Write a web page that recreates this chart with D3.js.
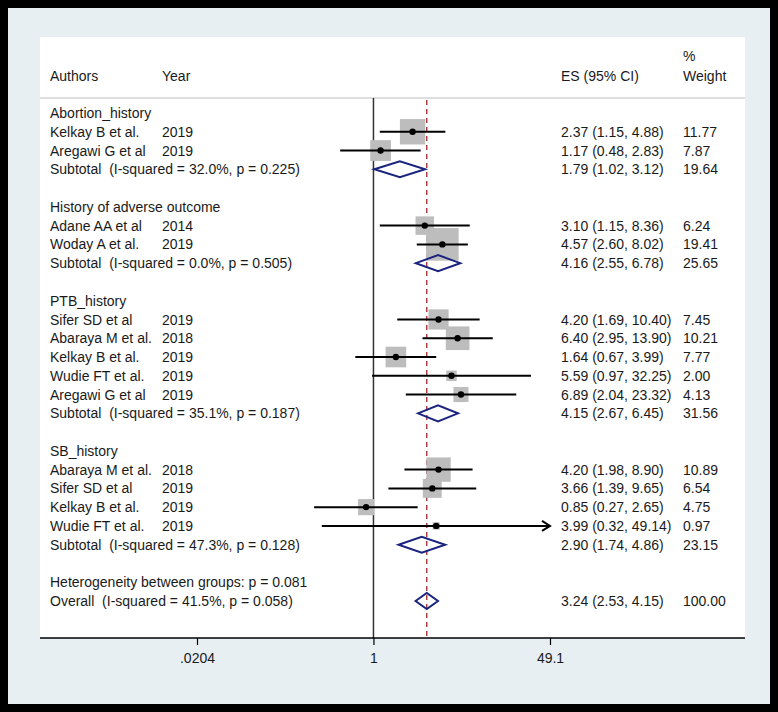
<!DOCTYPE html>
<html><head><meta charset="utf-8">
<script src="https://cdn.jsdelivr.net/npm/d3@7"></script>
<style>
html,body{margin:0;padding:0;background:#fff;}
svg text{font-family:"Liberation Sans",Arial,sans-serif;font-size:14px;fill:#1a1a1a;white-space:pre;}
</style></head>
<body>
<svg id="chart" width="778" height="712"></svg>
<script>
// ---- data ----
const groups = ["Abortion_history", "History of adverse outcome", "PTB_history", "SB_history"];
const studyAuthors = ["Kelkay B et al.", "Aregawi G et al",
  "Adane AA et al", "Woday A et al.",
  "Sifer SD et al", "Abaraya M et al.", "Kelkay B et al.", "Wudie FT et al.", "Aregawi G et al",
  "Abaraya M et al.", "Sifer SD et al", "Kelkay B et al.", "Wudie FT et al."];
const studyYears = ["2019", "2019", "2014", "2019", "2019", "2018", "2019", "2019", "2019", "2018", "2019", "2019", "2019"];
const studyGroup = [0, 0, 1, 1, 2, 2, 2, 2, 2, 3, 3, 3, 3];
const studyES = [2.37, 1.17, 3.10, 4.57, 4.20, 6.40, 1.64, 5.59, 6.89, 4.20, 3.66, 0.85, 3.99];
const studyLo = [1.15, 0.48, 1.15, 2.60, 1.69, 2.95, 0.67, 0.97, 2.04, 1.98, 1.39, 0.27, 0.32];
const studyHi = [4.88, 2.83, 8.36, 8.02, 10.40, 13.90, 3.99, 32.25, 23.32, 8.90, 9.65, 2.65, 49.14];
const studyWeight = ["11.77", "7.87", "6.24", "19.41", "7.45", "10.21", "7.77", "2.00", "4.13", "10.89", "6.54", "4.75", "0.97"];
const subES = [1.79, 4.16, 4.15, 2.90];
const subLo = [1.02, 2.55, 2.67, 1.74];
const subHi = [3.12, 6.78, 6.45, 4.86];
const subWeight = ["19.64", "25.65", "31.56", "23.15"];
const subI2 = ["32.0", "0.0", "35.1", "47.3"];
const subP = ["0.225", "0.505", "0.187", "0.128"];
const heteroP = "0.081";
const overall = {es: 3.24, lo: 2.53, hi: 4.15, weight: "100.00", i2: "41.5", p: "0.058"};
const tickValues = [0.0204, 1, 49.1];
const tickLabels = [".0204", "1", "49.1"];

const fmt = d3.format(".2f");
const esText = (e, l, h) => `${fmt(e)} (${fmt(l)}, ${fmt(h)})`;

// ---- build rows ----
const rows = [];
groups.forEach((g, gi) => {
  rows.push({type: "head", label: g});
  studyGroup.forEach((sg, i) => {
    if (sg === gi) rows.push({type: "study", label: studyAuthors[i], year: studyYears[i],
      es: studyES[i], lo: studyLo[i], hi: studyHi[i], w: studyWeight[i]});
  });
  rows.push({type: "sub", label: `Subtotal  (I-squared = ${subI2[gi]}%, p = ${subP[gi]})`,
    es: subES[gi], lo: subLo[gi], hi: subHi[gi], w: subWeight[gi]});
  rows.push({type: "blank"});
});
rows.push({type: "head", label: `Heterogeneity between groups: p = ${heteroP}`});
rows.push({type: "sub", label: `Overall  (I-squared = ${overall.i2}%, p = ${overall.p})`,
  es: overall.es, lo: overall.lo, hi: overall.hi, w: overall.weight});

// ---- layout ----
const svg = d3.select("#chart");
const W = 778, H = 712;
const plot = {x0: 40, x1: 745, y0: 37, y1: 638};
const headerLineY = 98;

const x = d3.scaleLog().domain([tickValues[0], tickValues[2]]).range([197, 550]);
const y = d3.scaleLinear().domain([0, rows.length - 1]).range([113, 601]);
const boxSide = w => 7.4 * Math.sqrt(+w);

// frame
svg.append("rect").attr("x", 0).attr("y", 0).attr("width", W).attr("height", H).attr("fill", "#000");
svg.append("rect").attr("x", 8).attr("y", 8).attr("width", 762).attr("height", 696).attr("fill", "#e8eff2");
svg.append("rect").attr("x", plot.x0).attr("y", plot.y0).attr("width", plot.x1 - plot.x0)
  .attr("height", plot.y1 - plot.y0).attr("fill", "#fff");

// header
const colAuthor = 50, colYear = 162, colES = 561, colW = 683;
svg.append("text").attr("x", colAuthor).attr("y", 81).text("Authors");
svg.append("text").attr("x", colYear).attr("y", 81).text("Year");
svg.append("text").attr("x", colES).attr("y", 81).text("ES (95% CI)");
svg.append("text").attr("x", colW).attr("y", 81).text("Weight");
svg.append("text").attr("x", colW).attr("y", 61).text("%");
svg.append("line").attr("x1", plot.x0).attr("x2", plot.x1).attr("y1", headerLineY).attr("y2", headerLineY)
  .attr("stroke", "#bdbdbd").attr("stroke-width", 1.2);

// null line & overall line
svg.append("line").attr("x1", x(1)).attr("x2", x(1)).attr("y1", headerLineY).attr("y2", plot.y1)
  .attr("stroke", "#333").attr("stroke-width", 1.5);
svg.append("line").attr("x1", x(overall.es)).attr("x2", x(overall.es)).attr("y1", headerLineY + 2).attr("y2", plot.y1)
  .attr("stroke", "#a0262a").attr("stroke-width", 1.3).attr("stroke-dasharray", "5,4");

// rows text
const g = svg.append("g");
rows.forEach((r, i) => {
  const cy = y(i);
  if (r.type === "blank") return;
  g.append("text").attr("x", colAuthor).attr("y", cy).attr("dy", "0.36em").text(r.label);
  if (r.year) g.append("text").attr("x", colYear).attr("y", cy).attr("dy", "0.36em").text(r.year);
  if (r.es !== undefined) {
    g.append("text").attr("x", colES).attr("y", cy).attr("dy", "0.36em").text(esText(r.es, r.lo, r.hi));
    g.append("text").attr("x", colW).attr("y", cy).attr("dy", "0.36em").text(r.w);
  }
});

// study marks
const [dMin, dMax] = x.domain();
rows.forEach((r, i) => {
  const cy = y(i);
  if (r.type === "study") {
    const s = boxSide(r.w);
    svg.append("rect").attr("x", x(r.es) - s / 2).attr("y", cy - s / 2).attr("width", s).attr("height", s)
      .attr("fill", "#bdbdbd");
  }
});
rows.forEach((r, i) => {
  const cy = y(i);
  if (r.type === "study") {
    const xl = x(Math.max(r.lo, dMin)), xr = x(Math.min(r.hi, dMax));
    svg.append("line").attr("x1", xl).attr("x2", xr).attr("y1", cy).attr("y2", cy)
      .attr("stroke", "#000").attr("stroke-width", 2);
    if (r.hi > dMax) {
      svg.append("path").attr("d", `M${xr - 8},${cy - 5}L${xr},${cy}L${xr - 8},${cy + 5}`)
        .attr("fill", "none").attr("stroke", "#000").attr("stroke-width", 2);
    }
    svg.append("circle").attr("cx", x(r.es)).attr("cy", cy).attr("r", 3.2).attr("fill", "#000");
  } else if (r.type === "sub") {
    const h = 8;
    svg.append("path")
      .attr("d", `M${x(r.lo)},${cy}L${x(r.es)},${cy - h}L${x(r.hi)},${cy}L${x(r.es)},${cy + h}Z`)
      .attr("fill", "none").attr("stroke", "#1a237e").attr("stroke-width", 2);
  }
});

// axis
svg.append("line").attr("x1", plot.x0).attr("x2", plot.x1).attr("y1", plot.y1).attr("y2", plot.y1)
  .attr("stroke", "#000").attr("stroke-width", 1.5);
const axis = d3.axisBottom(x).tickValues(tickValues).tickSize(7).tickPadding(8)
  .tickFormat((d, i) => tickLabels[i]);
const ax = svg.append("g").attr("transform", `translate(0,${plot.y1})`).call(axis);
ax.select(".domain").remove();
ax.selectAll(".tick line").attr("stroke", "#000").attr("stroke-width", 1.2);
ax.selectAll(".tick text").attr("font-size", null).attr("font-family", null).attr("fill", "#1a1a1a");
</script>
</body></html>
